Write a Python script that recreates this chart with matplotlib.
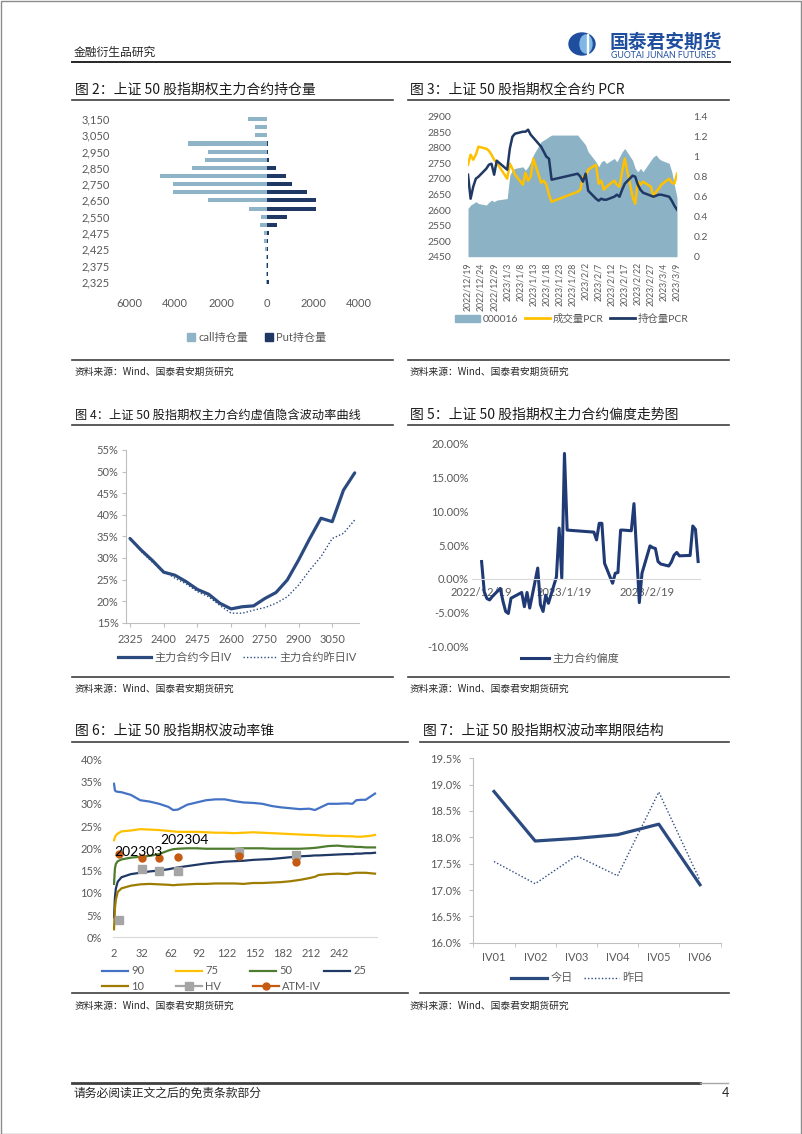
import matplotlib
matplotlib.use('Agg')
import matplotlib.pyplot as plt
import matplotlib.dates as mdates
from matplotlib.lines import Line2D
from matplotlib.patches import Patch, Rectangle, Ellipse
from matplotlib.ticker import FuncFormatter
import numpy as np
import pandas as pd

plt.rcParams['font.family'] = ['Lato', 'Noto Sans CJK SC', 'DejaVu Sans']
plt.rcParams['axes.unicode_minus'] = False

# ---------------- data ----------------
# 图2: open interest by strike (top to bottom)
oi_strikes = [3150, 3100, 3050, 3000, 2950, 2900, 2850, 2800, 2750, 2700, 2650,
              2600, 2550, 2500, 2475, 2450, 2425, 2400, 2375, 2350, 2325]
call_oi = [840, 540, 540, 3450, 2550, 2690, 3240, 4650, 4100, 4100, 2550,
           800, 250, 320, 120, 120, 70, 60, 60, 60, 60]
put_oi = [10, 10, 10, 50, 60, 90, 390, 815, 1090, 1760, 2110,
          2150, 860, 420, 90, 50, 30, 30, 40, 40, 70]

# 图3: PCR
trade_dates = ['2022-12-19', '2022-12-20', '2022-12-21', '2022-12-22', '2022-12-23',
               '2022-12-26', '2022-12-27', '2022-12-28', '2022-12-29', '2022-12-30',
               '2023-01-03', '2023-01-04', '2023-01-05', '2023-01-06',
               '2023-01-09', '2023-01-10', '2023-01-11', '2023-01-12', '2023-01-13',
               '2023-01-16', '2023-01-17', '2023-01-18', '2023-01-19', '2023-01-20',
               '2023-01-30', '2023-01-31', '2023-02-01', '2023-02-02', '2023-02-03',
               '2023-02-06', '2023-02-07', '2023-02-08', '2023-02-09', '2023-02-10',
               '2023-02-13', '2023-02-14', '2023-02-15', '2023-02-16', '2023-02-17',
               '2023-02-20', '2023-02-21', '2023-02-22', '2023-02-23', '2023-02-24',
               '2023-02-27', '2023-02-28', '2023-03-01', '2023-03-02', '2023-03-03',
               '2023-03-06', '2023-03-07', '2023-03-08', '2023-03-09']
sse50 = [2605, 2616, 2621, 2627, 2621, 2616, 2625, 2632, 2627, 2632,
         2637, 2712, 2728, 2734,
         2739, 2728, 2739, 2755, 2777,
         2820, 2825, 2830, 2836, 2841,
         2841, 2830, 2820, 2809, 2787,
         2755, 2739, 2755, 2760, 2750,
         2766, 2755, 2771, 2787, 2798,
         2760, 2734, 2723, 2734, 2723,
         2760, 2771, 2777, 2766, 2760,
         2750, 2723, 2680, 2640]
vol_pcr = [0.92, 1.02, 0.97, 1.02, 1.10, 1.08, 1.06, 1.02, 0.97, 0.94,
           0.78, 0.93, 0.88, 0.82,
           0.72, 0.84, 0.76, 0.80, 0.98,
           0.74, 0.76, 0.72, 0.62, 0.55,
           0.65, 0.67, 0.80, 0.80, 0.87,
           0.92, 0.73, 0.76, 0.67, 0.70,
           0.76, 0.72, 0.70, 0.85, 0.98,
           0.60, 0.53, 0.75, 0.72, 0.75,
           0.70, 0.60, 0.65, 0.68, 0.72,
           0.78, 0.74, 0.73, 0.83]
oi_pcr = [0.82, 0.58, 0.70, 0.78, 0.80, 0.88, 0.92, 0.93, 0.82, 0.96,
          0.87, 1.08, 1.20, 1.23,
          1.25, 1.25, 1.27, 1.22, 1.19,
          1.10, 1.05, 1.00, 0.98, 0.77,
          0.83, 0.80, 0.75, 0.83, 0.66,
          0.58, 0.56, 0.58, 0.57, 0.57,
          0.60, 0.62, 0.60, 0.67, 0.73,
          0.81, 0.80, 0.72, 0.67, 0.64,
          0.61, 0.60, 0.61, 0.62, 0.62,
          0.60, 0.56, 0.51, 0.47]

# 图4: OTM implied vol smile (%)
iv_strikes = [2325, 2350, 2375, 2400, 2425, 2450, 2475, 2500, 2550, 2600, 2650,
              2700, 2750, 2800, 2850, 2900, 2950, 3000, 3050, 3100, 3150]
iv_today = [34.5, 31.8, 29.4, 26.7, 26.0, 24.5, 22.7, 21.6, 19.5, 18.2, 18.7,
            18.9, 20.6, 22.0, 24.9, 29.5, 34.5, 39.2, 38.4, 45.7, 49.7]
iv_yday = [34.5, 31.5, 29.0, 27.0, 25.3, 24.0, 22.2, 21.0, 19.0, 17.2, 17.2,
           17.9, 18.5, 19.5, 21.0, 23.7, 27.2, 30.3, 34.5, 35.7, 38.8]

# 图5: skew (%)
skew_dates = trade_dates + ['2023-03-10']
skew = [2.56, -1.9, -2.9, -3.1, -2.6, -1.4, -3.3, -4.8, -5.1, -2.85,
        -2.0, -4.1, -2.0, -4.3,
        1.6, -3.8, -4.8, -2.4, -3.6,
        0.3, 7.5, 0.1, 18.5, 7.2,
        6.9, 5.75, 8.2, 8.2, 2.3,
        -0.64, 0.84, 0.93, 7.2, 7.2,
        7.1, 11.1, 3.8, -3.5, 0.84,
        4.87, 4.6, 4.5, 2.56, 2.2,
        1.9, 2.5, 3.5, 3.9, 3.4,
        3.45, 3.45, 7.8, 7.3, 2.56]

# 图6: volatility cone (%)
cone_days = [2, 3, 4, 6, 10, 20, 30, 40, 50, 60, 65, 70, 80, 90, 100, 110, 120, 130,
             140, 150, 160, 170, 180, 190, 200, 210, 216, 220, 230, 240, 250, 256,
             260, 265, 270, 275, 280]
cone_90 = [34.5, 33.0, 32.8, 32.7, 32.6, 32.0, 30.8, 30.5, 30.0, 29.3, 28.6, 28.7,
           29.8, 30.3, 30.8, 31.0, 31.0, 30.6, 30.3, 30.2, 30.0, 29.5, 29.2, 29.0,
           28.8, 28.9, 28.6, 29.0, 30.0, 30.0, 30.1, 30.0, 30.8, 30.9, 30.9, 31.6, 32.3]
cone_75 = [21.8, 22.5, 22.9, 23.3, 23.8, 24.0, 24.3, 24.2, 24.1, 23.9, 23.8, 23.7,
           23.7, 23.7, 23.6, 23.5, 23.5, 23.4, 23.5, 23.6, 23.5, 23.4, 23.3, 23.2,
           23.1, 23.0, 23.0, 22.9, 22.8, 22.8, 22.7, 22.7, 22.6, 22.6, 22.7, 22.8, 23.0]
cone_50 = [12.0, 15.5, 16.5, 17.1, 17.5, 17.9, 18.1, 18.3, 18.7, 19.5, 19.8, 19.9,
           20.0, 20.0, 19.9, 19.9, 19.9, 19.9, 20.0, 20.0, 20.0, 19.9, 19.9, 19.9,
           19.9, 20.0, 20.1, 20.2, 20.5, 20.6, 20.4, 20.4, 20.3, 20.3, 20.2, 20.2, 20.2]
cone_25 = [4.5, 9.0, 11.0, 12.5, 13.5, 14.2, 14.5, 14.8, 15.0, 15.3, 15.5, 15.7,
           16.0, 16.3, 16.6, 16.8, 17.0, 17.1, 17.2, 17.4, 17.5, 17.6, 17.8, 18.0,
           18.2, 18.3, 18.4, 18.4, 18.5, 18.6, 18.7, 18.7, 18.8, 18.8, 18.9, 18.9, 19.0]
cone_10 = [1.8, 6.5, 8.5, 10.2, 11.0, 11.6, 11.9, 12.0, 11.9, 11.8, 11.7, 11.8,
           11.9, 12.0, 12.0, 12.1, 12.1, 12.1, 12.0, 12.2, 12.2, 12.3, 12.4, 12.6,
           12.9, 13.3, 13.6, 14.0, 14.2, 14.3, 14.2, 14.4, 14.5, 14.5, 14.5, 14.4, 14.3]
point_days = [7, 32, 50, 70, 135, 196]
hv_vals = [3.9, 15.4, 14.9, 14.9, 19.2, 18.4]
atm_vals = [18.8, 17.9, 17.9, 18.0, 18.3, 17.0]

# 图7: term structure (%)
term_labels = ['IV01', 'IV02', 'IV03', 'IV04', 'IV05', 'IV06']
term_today = [18.87, 17.93, 17.98, 18.05, 18.25, 17.10]
term_yday = [17.54, 17.12, 17.65, 17.27, 18.86, 17.18]

# ---------------- page ----------------
W, H = 802, 1134
fig = plt.figure(figsize=(W / 100, H / 100), dpi=100)
TICK_C = '#595959'
NAVY = '#203864'
CJK = ['Noto Sans CJK SC', 'DejaVu Sans']


def box(x0, y0, x1, y1):
    return fig.add_axes([x0 / W, 1 - y1 / H, (x1 - x0) / W, (y1 - y0) / H])


def ftext(x, y, s, **kw):
    fig.text(x / W, 1 - y / H, s, **kw)


def hline(x0, x1, y, lw=1.2, color='#404040'):
    fig.add_artist(Line2D([x0 / W, x1 / W], [1 - y / H, 1 - y / H], lw=lw, color=color))


def legend_at(ax, handles, labels, x, y, **kw):
    opts = dict(loc='center', frameon=False, fontsize=8, labelcolor=TICK_C,
                bbox_to_anchor=(x / W, 1 - y / H), bbox_transform=fig.transFigure,
                handletextpad=0.3, borderpad=0, borderaxespad=0)
    opts.update(kw)
    return ax.legend(handles, labels, **opts)


def clean(ax, keep=()):
    for side in ['top', 'right', 'left', 'bottom']:
        ax.spines[side].set_visible(side in keep)
        ax.spines[side].set_color('#BFBFBF')
    ax.tick_params(colors=TICK_C, labelsize=8, length=0)


# border, header, footer
fig.add_artist(Rectangle((0.5 / W, 0.5 / H), (W - 1.5) / W, (H - 1.5) / H, transform=fig.transFigure,
                         fill=False, ec='#8C8C8C', lw=1))
ftext(74, 52, '金融衍生品研究', fontsize=8.5, va='center', family=CJK, color='#262626')
hline(72, 730, 62, lw=1.4, color='#262626')
fig.add_artist(Ellipse((582 / W, 1 - 44 / H), 26 / W, 22 / H, transform=fig.transFigure, color='#1F4E9E'))
fig.add_artist(Ellipse((586 / W, 1 - 44 / H), 12 / W, 18 / H, transform=fig.transFigure, color='#7FB8E6'))
fig.add_artist(Rectangle((586.5 / W, 1 - 54 / H), 1.6 / W, 20 / H, transform=fig.transFigure, color='white'))
ftext(610, 42, '国泰君安期货', fontsize=13.5, va='center', family=CJK, color='#1F4E9E', weight='bold')
ftext(611, 55.5, 'GUOTAI JUNAN FUTURES', fontsize=6.3, va='center', color='#1F4E9E')
hline(72, 700, 1083, lw=2, color='#404040')
hline(700, 728, 1083, lw=1, color='#A6A6A6')
ftext(74, 1093, '请务必阅读正文之后的免责条款部分', fontsize=8.5, va='center', family=CJK, color='#262626')
ftext(725, 1093, '4', fontsize=9, va='center', ha='center', color='#262626')

# titles, rules and sources
titles = [(75, 90, '图 2：上证 50 股指期权主力合约持仓量', 10),
          (410, 90, '图 3：上证 50 股指期权全合约 PCR', 10),
          (75, 415, '图 4：上证 50 股指期权主力合约虚值隐含波动率曲线', 8.8),
          (410, 415, '图 5：上证 50 股指期权主力合约偏度走势图', 10),
          (75, 731, '图 6：上证 50 股指期权波动率锥', 10),
          (423, 731, '图 7：上证 50 股指期权波动率期限结构', 10)]
for x, y, s, fs in titles:
    ftext(x, y, s, fontsize=fs, va='center', family=CJK, color='#1A1A1A')
for y in [100, 425]:
    hline(72, 393, y)
    hline(408, 729, y)
hline(72, 408, 742)
hline(420, 729, 742)
for y in [360, 677]:
    hline(72, 393, y)
    hline(408, 729, y)
hline(72, 408, 993)
hline(420, 729, 993)
for y in [372, 689, 1006]:
    for x in [75, 410]:
        ftext(x, y, '资料来源：Wind、国泰君安期货研究', fontsize=7, va='center', family=CJK, color='#262626')

# ---------------- 图2 ----------------
ax2 = box(129, 115, 359, 285.8)
ypos = np.arange(len(oi_strikes))[::-1]
ax2.barh(ypos, -np.array(call_oi), height=0.5, color='#8FB4C8')
ax2.barh(ypos, put_oi, height=0.5, color=NAVY)
ax2.set_xlim(-6000, 4000)
ax2.set_ylim(-0.5, len(oi_strikes) - 0.5)
ax2.set_xticks(range(-6000, 4001, 2000))
ax2.xaxis.set_major_formatter(FuncFormatter(lambda v, p: f"{abs(int(v))}"))
ax2.set_yticks(ypos[::2])
ax2.set_yticklabels([f"{s:,}" for s in oi_strikes[::2]])
clean(ax2)
ax2.tick_params(axis='x', pad=9)
ax2.tick_params(axis='y', pad=14)
legend_at(ax2, [Patch(color='#8FB4C8'), Patch(color=NAVY)], ['call持仓量', 'Put持仓量'],
          257, 337, ncol=2, handlelength=0.7, handleheight=0.7, columnspacing=1.5)

# ---------------- 图3 ----------------
d3 = pd.to_datetime(trade_dates)
ax3 = box(468, 116.7, 677, 256.7)
ax3.fill_between(d3, 2450, sse50, color='#8CB3C5', lw=0)
ax3.set_ylim(2450, 2900)
ax3.set_yticks(range(2450, 2901, 50))
ax3.set_xlim(d3[0], d3[-1])
tick_days = pd.date_range('2022-12-19', '2023-03-09', freq='5D')
ax3.set_xticks(tick_days)
ax3.xaxis.set_major_formatter(FuncFormatter(
    lambda v, p: (lambda d: f"{d.year}/{d.month}/{d.day}")(mdates.num2date(v))))
clean(ax3)
ax3.tick_params(axis='x', labelrotation=90, labelsize=6.3, pad=4)
ax3.tick_params(axis='y', labelsize=7.5, pad=12)
ax3b = ax3.twinx()
ax3b.plot(d3, vol_pcr, color='#FFC000', lw=1.8)
ax3b.plot(d3, oi_pcr, color=NAVY, lw=1.8)
ax3b.set_ylim(0, 1.4)
ax3b.set_yticks(np.arange(0, 1.41, 0.2))
ax3b.yaxis.set_major_formatter(FuncFormatter(lambda v, p: f"{v:g}" if v else "0"))
clean(ax3b)
ax3b.tick_params(axis='y', labelsize=7.5, pad=12)
legend_at(ax3b, [Patch(color='#8CB3C5'), Line2D([], [], color='#FFC000', lw=2),
                 Line2D([], [], color=NAVY, lw=2)],
          ['000016', '成交量PCR', '持仓量PCR'], 572, 319, ncol=3, fontsize=7.5,
          handlelength=2.4, columnspacing=0.6)

# ---------------- 图4 ----------------
ax4 = box(125.5, 450, 359.2, 622.7)
xi = np.arange(len(iv_strikes))
ax4.plot(xi, np.array(iv_today) / 100, color='#2B4A80', lw=2.3, solid_capstyle='round')
ax4.plot(xi, np.array(iv_yday) / 100, color='#2B4A80', lw=1.0, ls=(0, (1, 1.5)))
ax4.set_xlim(-0.4, 20.4)
ax4.set_ylim(0.15, 0.55)
ax4.set_yticks(np.arange(0.15, 0.551, 0.05))
ax4.yaxis.set_major_formatter(FuncFormatter(lambda v, p: f"{v * 100:.0f}%"))
ax4.set_xticks(xi[::3])
ax4.set_xticklabels([str(s) for s in iv_strikes[::3]])
clean(ax4, keep=('left', 'bottom'))
ax4.tick_params(axis='y', length=3, pad=2, color='#BFBFBF')
ax4.tick_params(axis='x', length=3, pad=5, color='#BFBFBF')
legend_at(ax4, [Line2D([], [], color='#2B4A80', lw=2.3), Line2D([], [], color='#2B4A80', lw=1.0, ls=(0, (1, 1.5)))],
          ['主力合约今日IV', '主力合约昨日IV'], 237, 657, ncol=2, handlelength=3.0, columnspacing=1.0)

# ---------------- 图5 ----------------
d5 = pd.to_datetime(skew_dates)
t0 = pd.Timestamp('2022-12-19')
ax5 = box(471.7, 443.3, 700, 646.7)
ax5.plot(d5, np.array(skew) / 100, color='#1F3A75', lw=2.2)
ax5.set_xlim(t0 - pd.Timedelta(days=3.7), t0 + pd.Timedelta(days=81.7))
ax5.set_ylim(-0.10, 0.20)
ax5.set_yticks(np.arange(-0.10, 0.201, 0.05))
ax5.yaxis.set_major_formatter(FuncFormatter(lambda v, p: f"{v * 100:.2f}%"))
ax5.set_xticks(pd.to_datetime(['2022-12-19', '2023-01-19', '2023-02-19']))
ax5.xaxis.set_major_formatter(FuncFormatter(
    lambda v, p: (lambda d: f"{d.year}/{d.month}/{d.day}")(mdates.num2date(v))))
clean(ax5, keep=('bottom',))
ax5.spines['bottom'].set_position(('data', 0))
ax5.spines['bottom'].set_color('#D9D9D9')
ax5.tick_params(axis='x', pad=6)
ax5.tick_params(axis='y', pad=2)
legend_at(ax5, [Line2D([], [], color='#1F3A75', lw=2.2)], ['主力合约偏度'], 570, 658, handlelength=2.6)

# ---------------- 图6 ----------------
ax6 = box(113.3, 759.3, 376.7, 937.3)
cone = [(cone_90, '#4472C4', '90'), (cone_75, '#FFC000', '75'), (cone_50, '#4E7D2F', '50'),
        (cone_25, NAVY, '25'), (cone_10, '#9E7C00', '10')]
handles6 = {}
for vals, c, name in cone:
    ln, = ax6.plot(cone_days, np.array(vals) / 100, color=c, lw=1.6)
    handles6[name] = ln
ax6.plot(point_days, np.array(hv_vals) / 100, ls='none', marker='s', ms=6, color='#A5A5A5')
ax6.plot(point_days, np.array(atm_vals) / 100, ls='none', marker='o', ms=5, color='#C55A11')
handles6['HV'] = Line2D([], [], color='#A5A5A5', lw=1.6, marker='s', ms=6)
handles6['ATM-IV'] = Line2D([], [], color='#C55A11', lw=1.6, marker='o', ms=5)
ax6.text(2, 0.192, '202303', fontsize=10, va='center', ha='left', color='black')
ax6.text(51, 0.219, '202304', fontsize=10, va='center', ha='left', color='black')
ax6.set_xlim(1.25, 281.8)
ax6.set_ylim(0, 0.40)
ax6.set_yticks(np.arange(0, 0.401, 0.05))
ax6.yaxis.set_major_formatter(FuncFormatter(lambda v, p: f"{v * 100:.0f}%"))
ax6.set_xticks(range(2, 243, 30))
clean(ax6, keep=('bottom',))
ax6.spines['bottom'].set_color('#D9D9D9')
ax6.tick_params(axis='x', pad=8)
ax6.tick_params(axis='y', pad=8)
row1 = ['90', '75', '50', '25']
row2 = ['10', 'HV', 'ATM-IV']
leg_a = legend_at(ax6, [handles6[k] for k in row1], row1, 102, 971, loc='center left',
                  ncol=4, handlelength=2.3, columnspacing=2.9)
ax6.add_artist(leg_a)
legend_at(ax6, [handles6[k] for k in row2], row2, 102, 986, loc='center left',
          ncol=3, handlelength=2.3, columnspacing=2.9)

# ---------------- 图7 ----------------
ax7 = box(473.4, 758.3, 720.6, 942.7)
xt = np.arange(len(term_labels))
ax7.plot(xt, np.array(term_today), color='#2B4A80', lw=2.3)
ax7.plot(xt, np.array(term_yday), color='#2B4A80', lw=1.0, ls=(0, (1, 1.5)))
ax7.set_xlim(-0.5, 5.5)
ax7.set_ylim(16.0, 19.5)
ax7.set_yticks(np.arange(16.0, 19.51, 0.5))
ax7.yaxis.set_major_formatter(FuncFormatter(lambda v, p: f"{v:.1f}%"))
ax7.set_xticks(xt)
ax7.set_xticklabels(term_labels)
ax7.set_xticks(np.arange(-0.5, 5.6, 1), minor=True)
clean(ax7, keep=('left', 'bottom'))
ax7.tick_params(axis='y', length=3, pad=6, color='#BFBFBF')
ax7.tick_params(axis='x', pad=7)
ax7.tick_params(axis='x', which='minor', length=3, color='#BFBFBF')
legend_at(ax7, [Line2D([], [], color='#2B4A80', lw=2.3), Line2D([], [], color='#2B4A80', lw=1.0, ls=(0, (1, 1.5)))],
          ['今日', '昨日'], 578, 978, ncol=2, handlelength=3.2, columnspacing=1.0)

fig.savefig('out.png', dpi=100)
